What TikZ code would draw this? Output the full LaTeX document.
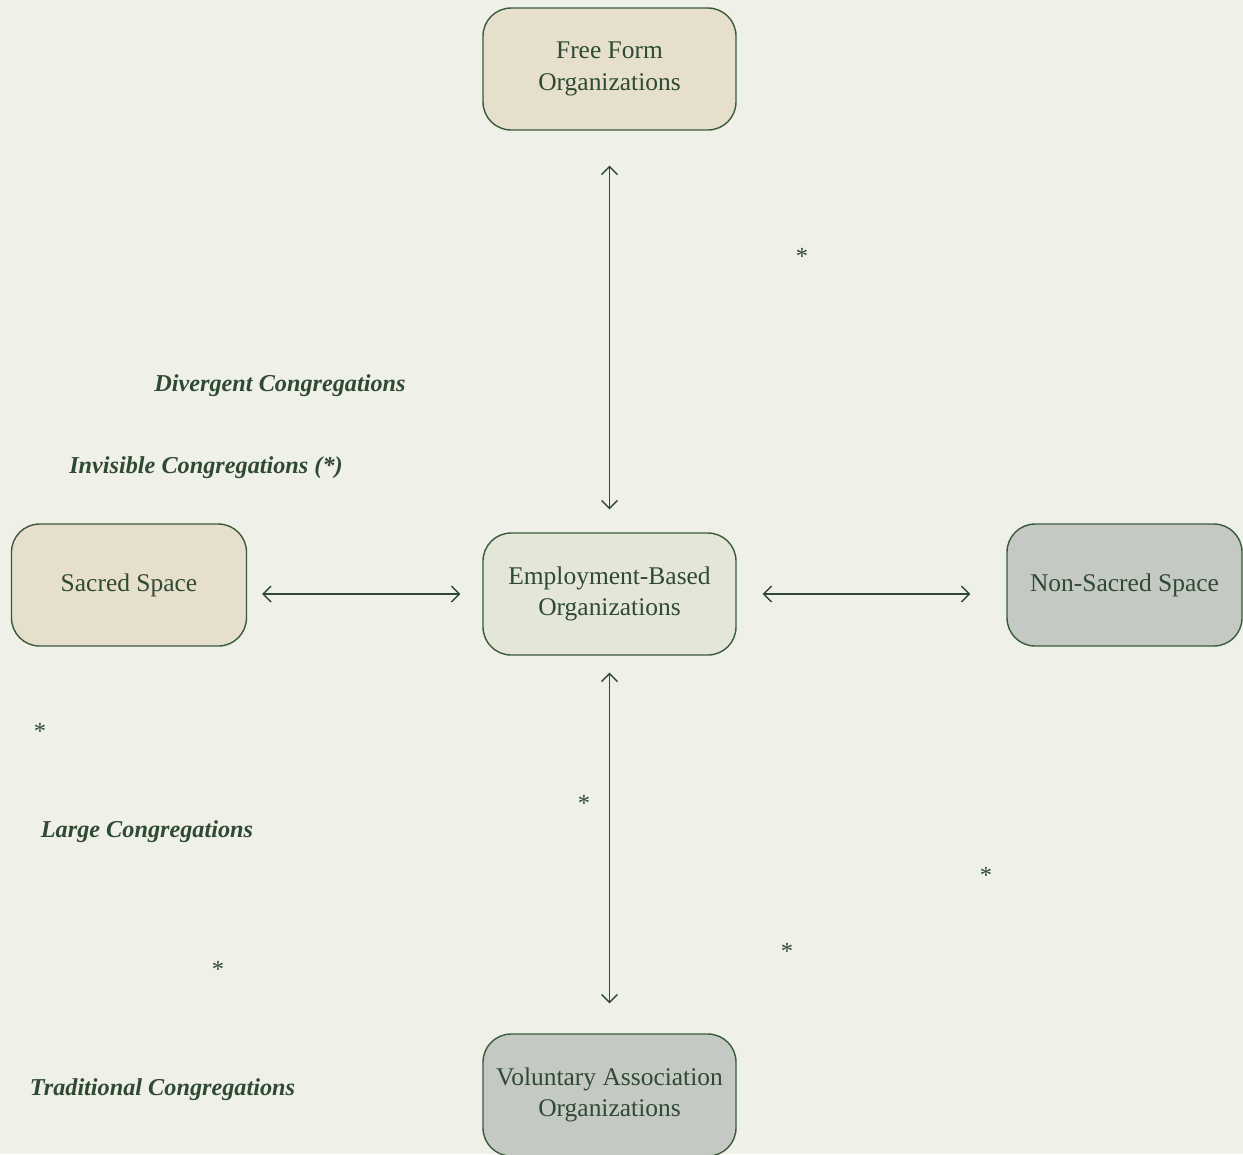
\documentclass[tikz,border=0pt]{standalone}
\usepackage{fontspec}
\setmainfont{Liberation Serif}
\usepackage{tikz}
\usetikzlibrary{arrows.meta}
\definecolor{bgcol}{HTML}{EFF0E7}
\definecolor{inkgreen}{HTML}{2F4A33}
\definecolor{edgegreen}{HTML}{3A5A3E}
\definecolor{tanfill}{HTML}{E5DFCC}
\definecolor{sagefill}{HTML}{E4E7D8}
\definecolor{greyfill}{HTML}{C5C9C4}

\begin{document}
\begin{tikzpicture}[line cap=round,line join=round,>={Straight Barb[length=4.5pt,width=9pt]},x=0.02cm,y=-0.02cm,
    orgbox/.style={draw=edgegreen,line width=0.8pt,rounded corners=16pt,minimum width=253*0.02cm,minimum height=122*0.02cm,align=center,text=inkgreen,font=\fontsize{14.5}{18}\selectfont},
    spacebox/.style={orgbox,minimum width=235*0.02cm},
    link/.style={<->,line width=0.8pt,color=inkgreen},
    kind/.style={text=inkgreen,font=\fontsize{13.8}{16}\selectfont\bfseries\itshape},
    star/.style={text=inkgreen,font=\fontsize{14}{16}\selectfont}]
    \fill[bgcol] (0,0) rectangle (1243,1154);
    \useasboundingbox (0,0) rectangle (1243,1154);

    \node[orgbox,fill=tanfill] (free) at (609.5,69) {Free Form\\Organizations};
    \node[orgbox,fill=sagefill] (emp) at (609.5,594) {Employment-Based\\Organizations};
    \node[orgbox,fill=greyfill] (vol) at (609.5,1095) {Voluntary Association\\Organizations};
    \node[spacebox,fill=tanfill] (sacred) at (129,585) {Sacred Space};
    \node[spacebox,fill=greyfill] (nonsacred) at (1124.5,585) {Non-Sacred Space};

    \draw[link,shorten <=35*0.02cm,shorten >=23*0.02cm] (free.south) -- (emp.north);
    \draw[link,shorten <=17*0.02cm,shorten >=30*0.02cm] (emp.south) -- (vol.north);
    \draw[link,shorten <=15*0.02cm,shorten >=22*0.02cm] (emp.west -| sacred.east) -- (emp.west);
    \draw[link,shorten <=26*0.02cm,shorten >=36*0.02cm] (emp.east) -- (emp.east -| nonsacred.west);

    \node[kind] (divergent) at (280,386) {Divergent Congregations};
    \node[kind] (invisible) at (206,468) {Invisible Congregations (*)};
    \node[kind] (large) at (147,832) {Large Congregations};
    \node[kind] (traditional) at (162.5,1090) {Traditional Congregations};

    \begin{scope}[every node/.style={star}]
        \node (s1) at (802,256) {*};
        \node (s2) at (40,731) {*};
        \node (s3) at (584,803) {*};
        \node (s4) at (986,875) {*};
        \node (s5) at (787,951) {*};
        \node (s6) at (218,969) {*};
    \end{scope}
\end{tikzpicture}
\end{document}
